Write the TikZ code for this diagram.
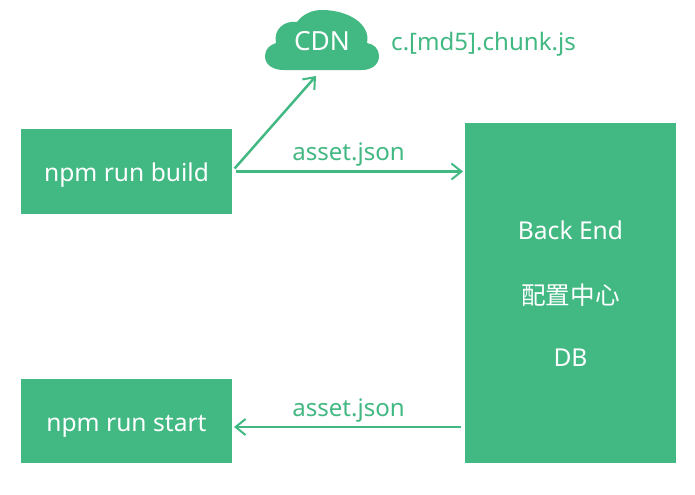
\documentclass[tikz,border=0pt]{standalone}
\usepackage{fontspec}
\setmainfont{Noto Sans}
\newfontfamily\cjk{Noto Sans CJK SC}
\usetikzlibrary{arrows.meta}
\definecolor{vuegreen}{HTML}{42B883}
\tikzset{
  block/.style={fill=vuegreen,text=white,inner sep=0pt,outer sep=0pt,minimum width=4.22cm,text height=11.7pt,text depth=0pt,font=\fontsize{14}{17}\selectfont},
  label/.style={text=vuegreen,inner sep=0pt,text depth=0pt,font=\fontsize{13.7}{17}\selectfont},
  whitetext/.style={text=white,inner sep=0pt,font=\fontsize{14}{17}\selectfont},
  flow/.style={draw=vuegreen,line width=0.05cm,-{Straight Barb[length=0.2cm,width=0.32cm,line width=0.04cm]}}
}
\begin{document}
\begin{tikzpicture}[x=0.02cm,y=-0.02cm]
  \useasboundingbox (0,0) rectangle (695,494);

  % Define the positions of the nodes
  \node[block,minimum height=1.7cm] (build) at (126.5,171.5) {npm run build};
  \node[block,minimum height=1.68cm] (start) at (126.5,421) {npm run start};
  \node[block,minimum height=6.8cm] (backend) at (570.5,293) {};

  \node[whitetext] (backname) at (570.5,230) {Back End};
  \node[whitetext] (config) at (570.5,295) {\cjk 配置中心};
  \node[whitetext] (db) at (570.5,358) {DB};

  % The cloud
  \fill[vuegreen] (284,70) .. controls (273,70) and (265,65) .. (265,56)
    .. controls (265,49) and (270,45) .. (276,43)
    .. controls (273,30) and (284,20) .. (297,22)
    .. controls (303,14) and (312,10) .. (322,10)
    .. controls (348,10) and (371,24) .. (367,43)
    .. controls (374,44) and (379,49) .. (379,56)
    .. controls (379,65) and (371,70) .. (362,70) -- cycle;
  \node[whitetext,font=\fontsize{15}{17}\selectfont] (cdn) at (322,41) {CDN};
  \node[label] (chunk) at (483.5,41) {c.[md5].chunk.js};

  \coordinate (cdnin) at (316,76);
  \coordinate (ret) at (350,427);

  \node[label] (assetup) at (348.5,152) {asset.json};
  \node[label] (assetdown) at (348.5,408) {asset.json};

  % Draw the edges
  \draw[flow,shorten <=0.08cm] (build.east) -- (cdnin);
  \draw[flow,shorten <=0.08cm,shorten >=0.04cm] (build.east) -- (backend.west |- build.east);
  \draw[flow,shorten <=0.08cm,shorten >=0.04cm] (backend.west |- ret) -- (start.east |- ret);
\end{tikzpicture}
\end{document}
